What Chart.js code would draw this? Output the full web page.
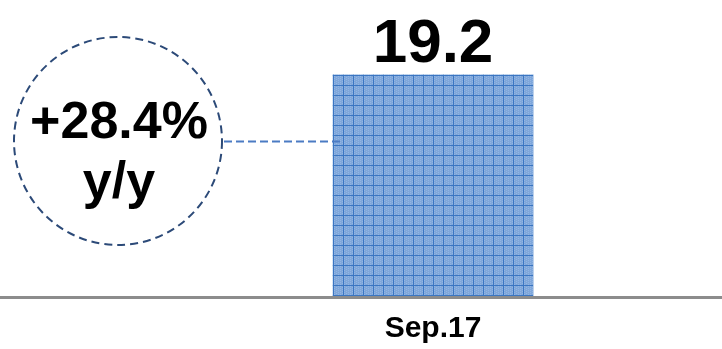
<!DOCTYPE html>
<html>
<head>
<meta charset="utf-8">
<script src="https://cdn.jsdelivr.net/npm/chart.js@4.4.0/dist/chart.umd.min.js"></script>
<style>
  html, body { margin: 0; padding: 0; background: #fff; }
  #wrap { width: 722px; height: 349px; }
</style>
</head>
<body>
<div id="wrap"><canvas id="chBar" width="722" height="349"></canvas></div>
<script>
var categories = ['Sep.17'];
var values = [19.2];
var yoyChange = [28.4];

var FONT = "Arial, 'Liberation Sans', sans-serif";

// grid-paper fill for the bar
function gridPattern() {
  var c = document.createElement('canvas');
  c.width = 10; c.height = 10;
  var g = c.getContext('2d');
  g.fillStyle = '#7fa7db';
  g.fillRect(0, 0, 10, 10);
  g.fillStyle = '#93b5e3';
  for (var i = 0; i < 10; i += 2) {
    for (var j = (i / 2) % 2; j < 10; j += 2) g.fillRect(i, j, 1, 1);
  }
  g.fillStyle = '#3b76c2';
  g.fillRect(3, 0, 1, 10);
  g.fillRect(0, 5, 10, 1);
  return document.getElementById('chBar').getContext('2d').createPattern(c, 'repeat');
}

var extras = {
  id: 'extras',
  afterDatasetsDraw: function(chart) {
    var ctx = chart.ctx;
    var area = chart.chartArea;
    var bar = chart.getDatasetMeta(0).data[0];

    // baseline across the whole width, over the bar
    ctx.save();
    ctx.strokeStyle = '#8c8c8c';
    ctx.lineWidth = 3;
    ctx.beginPath();
    ctx.moveTo(0, area.bottom - 1.5);
    ctx.lineTo(chart.width, area.bottom - 1.5);
    ctx.stroke();

    // value on top of bar
    ctx.fillStyle = '#000';
    ctx.font = 'bold 62px ' + FONT;
    ctx.textAlign = 'center';
    ctx.textBaseline = 'alphabetic';
    ctx.fillText(values[0].toFixed(1), bar.x, bar.y - 13);

    // y/y bubble
    var cx = 118, cy = 141, r = 104;
    ctx.setLineDash([8, 5]);
    ctx.strokeStyle = '#2c4a78';
    ctx.lineWidth = 2;
    ctx.beginPath();
    ctx.arc(cx, cy, r, 0, Math.PI * 2);
    ctx.stroke();

    ctx.strokeStyle = '#4b7bc3';
    ctx.setLineDash([8, 4]);
    ctx.beginPath();
    ctx.moveTo(cx + r + 2, cy + 0.5);
    ctx.lineTo(bar.x - bar.width / 2 + 7, cy + 0.5);
    ctx.stroke();
    ctx.setLineDash([]);

    ctx.fillStyle = '#000';
    ctx.font = 'bold 52px ' + FONT;
    ctx.fillText('+' + yoyChange[0].toFixed(1) + '%', cx + 1, 138);
    ctx.fillText('y/y', cx + 1, 198);
    ctx.restore();
  }
};

new Chart(document.getElementById('chBar'), {
  type: 'bar',
  data: {
    labels: categories,
    datasets: [{
      data: values,
      backgroundColor: gridPattern(),
      borderWidth: 0,
      barThickness: 200
    }]
  },
  options: {
    responsive: false,
    animation: false,
    layout: { padding: { top: 7, left: 144, right: 0, bottom: 0 } },
    plugins: { legend: { display: false }, tooltip: { enabled: false } },
    scales: {
      x: {
        grid: { display: false, drawTicks: false },
        border: { display: false },
        ticks: { color: '#000', font: { family: FONT, size: 30, weight: 'bold' }, padding: 12 },
        afterFit: function(s) { s.height = 50; }
      },
      y: { display: false, min: 0, max: 25 }
    }
  },
  plugins: [extras]
});
</script>
</body>
</html>
